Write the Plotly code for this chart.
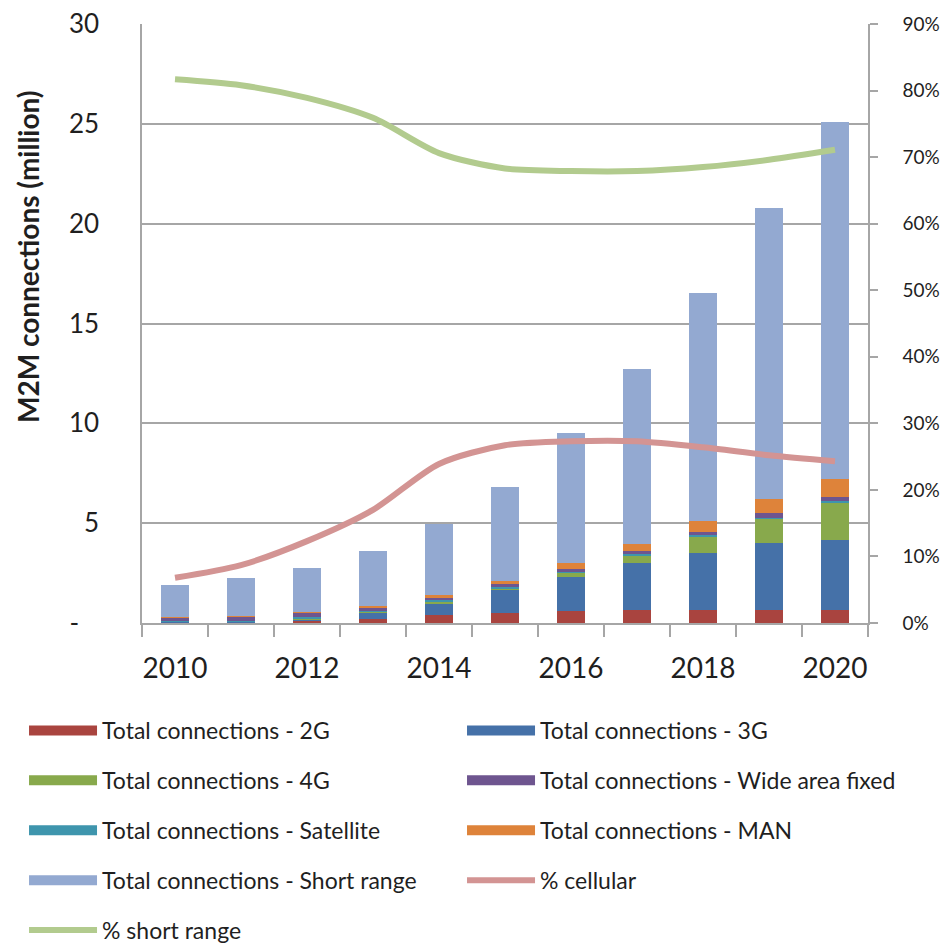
import plotly.graph_objects as go

years = [2010, 2011, 2012, 2013, 2014, 2015, 2016, 2017, 2018, 2019, 2020]

conn_2g = [0.02, 0.03, 0.12, 0.22, 0.40, 0.50, 0.62, 0.67, 0.67, 0.67, 0.67]
conn_3g = [0.03, 0.05, 0.08, 0.33, 0.60, 1.15, 1.67, 2.33, 2.83, 3.32, 3.48]
conn_4g = [0.00, 0.00, 0.01, 0.02, 0.10, 0.10, 0.22, 0.37, 0.82, 1.22, 1.88]
conn_wide_area_fixed = [0.18, 0.22, 0.22, 0.17, 0.15, 0.15, 0.15, 0.17, 0.18, 0.22, 0.20]
conn_satellite = [0.03, 0.04, 0.10, 0.05, 0.05, 0.05, 0.06, 0.07, 0.07, 0.07, 0.08]
conn_man = [0.02, 0.03, 0.02, 0.08, 0.10, 0.13, 0.27, 0.35, 0.55, 0.72, 0.88]
conn_short_range = [1.62, 1.86, 2.20, 2.72, 3.57, 4.75, 6.52, 8.77, 11.40, 14.57, 17.92]

pct_cellular = [0.068, 0.087, 0.123, 0.170, 0.239, 0.267, 0.273, 0.273, 0.264, 0.252, 0.243]
pct_short_range = [0.817, 0.808, 0.789, 0.759, 0.706, 0.683, 0.679, 0.679, 0.685, 0.696, 0.711]

left_tick_vals = [0, 5, 10, 15, 20, 25, 30]
left_tick_text = ["-\u00a0\u00a0\u00a0", "5", "10", "15", "20", "25", "30"]
right_tick_vals = [0, 0.1, 0.2, 0.3, 0.4, 0.5, 0.6, 0.7, 0.8, 0.9]
x_label_years = [2010, 2012, 2014, 2016, 2018, 2020]
boundaries = [y - 0.5 for y in years] + [years[-1] + 0.5]
y_title = "M2M connections (million)"

FONT = "Lato"
GRAY = "#a6a6a6"
TXT = "#1f1f1f"

# (name, values, color, legend, rank) in stacking order bottom->top
bar_series = [
    ("Total connections - 2G", conn_2g, "#A9443F", "legend", 1),
    ("Total connections - 3G", conn_3g, "#4571A8", "legend2", 1),
    ("Total connections - 4G", conn_4g, "#88A94C", "legend", 2),
    ("Total connections - Satellite", conn_satellite, "#3E95AD", "legend", 3),
    ("Total connections - Wide area fixed", conn_wide_area_fixed, "#6E558F", "legend2", 2),
    ("Total connections - MAN", conn_man, "#DE833A", "legend2", 3),
    ("Total connections - Short range", conn_short_range, "#93A9D1", "legend", 4),
]

fig = go.Figure()
for name, vals, color, lg, rank in bar_series:
    fig.add_trace(go.Bar(
        x=years, y=vals, name=name, width=0.41,
        marker=dict(color=color, line=dict(width=0)),
        showlegend=False, yaxis="y",
    ))
# legend swatches (rectangular, like the original)
for name, vals, color, lg, rank in bar_series:
    fig.add_trace(go.Scatter(
        x=[None], y=[None], mode="lines", name=name,
        line=dict(color=color, width=12),
        legend=lg, legendgroup=name, legendrank=rank, showlegend=True,
    ))

fig.add_trace(go.Scatter(
    x=years, y=pct_cellular, name="% cellular", mode="lines",
    line=dict(color="#D39493", width=6, shape="spline", smoothing=0.8),
    yaxis="y2", legend="legend2", legendgroup="cell", legendrank=4,
))
fig.add_trace(go.Scatter(
    x=years, y=pct_short_range, name="% short range", mode="lines",
    line=dict(color="#B2CB8E", width=6, shape="spline", smoothing=0.8),
    yaxis="y2", legend="legend", legendgroup="short", legendrank=5,
))

legend_common = dict(
    orientation="v", traceorder="grouped", tracegroupgap=17,
    font=dict(family=FONT, size=23, color=TXT), itemwidth=68,
    bgcolor="rgba(0,0,0,0)", xanchor="left", yanchor="top",
)

fig.update_layout(
    width=948, height=944, autosize=False,
    margin=dict(l=142, r=80, t=24, b=321, autoexpand=False),
    paper_bgcolor="white", plot_bgcolor="white",
    barmode="stack",
    font=dict(family=FONT, color=TXT),
    xaxis=dict(
        range=[2009.5, 2020.5], tickvals=x_label_years, ticks="",
        showgrid=False, zeroline=False,
        showline=True, linecolor=GRAY, linewidth=1.5,
        tickfont=dict(family=FONT, size=28, color=TXT),
        ticklabelstandoff=20,
        minor=dict(tickvals=boundaries, ticks="outside", ticklen=12,
                   tickcolor=GRAY, tickwidth=1.5, showgrid=False),
    ),
    yaxis=dict(
        range=[0, 30], tickvals=left_tick_vals, ticktext=left_tick_text,
        ticks="", showgrid=True, gridcolor=GRAY, gridwidth=1.5,
        zeroline=False, showline=True, linecolor=GRAY, linewidth=1.5,
        tickfont=dict(family=FONT, size=26, color=TXT),
        ticklabelstandoff=36,
    ),
    yaxis2=dict(
        range=[0, 0.9], tickvals=right_tick_vals, tickformat=".0%",
        overlaying="y", side="right", showgrid=False, zeroline=False,
        showline=True, linecolor=GRAY, linewidth=1.5,
        ticks="outside", ticklen=8, tickcolor=GRAY, tickwidth=1.5,
        tickfont=dict(family=FONT, size=19, color=TXT),
        ticklabelstandoff=21,
    ),
    legend=dict(x=-0.1625, y=-0.1436, **legend_common),
    legend2=dict(x=0.4408, y=-0.1436, **legend_common),
    showlegend=True,
    annotations=[dict(
        text="<b>" + y_title + "</b>", textangle=-90,
        xref="paper", yref="paper", x=-0.157, y=0.611,
        xanchor="center", yanchor="middle", showarrow=False,
        font=dict(family=FONT, size=28, color=TXT),
    )],
)

fig.write_html("out.html")
